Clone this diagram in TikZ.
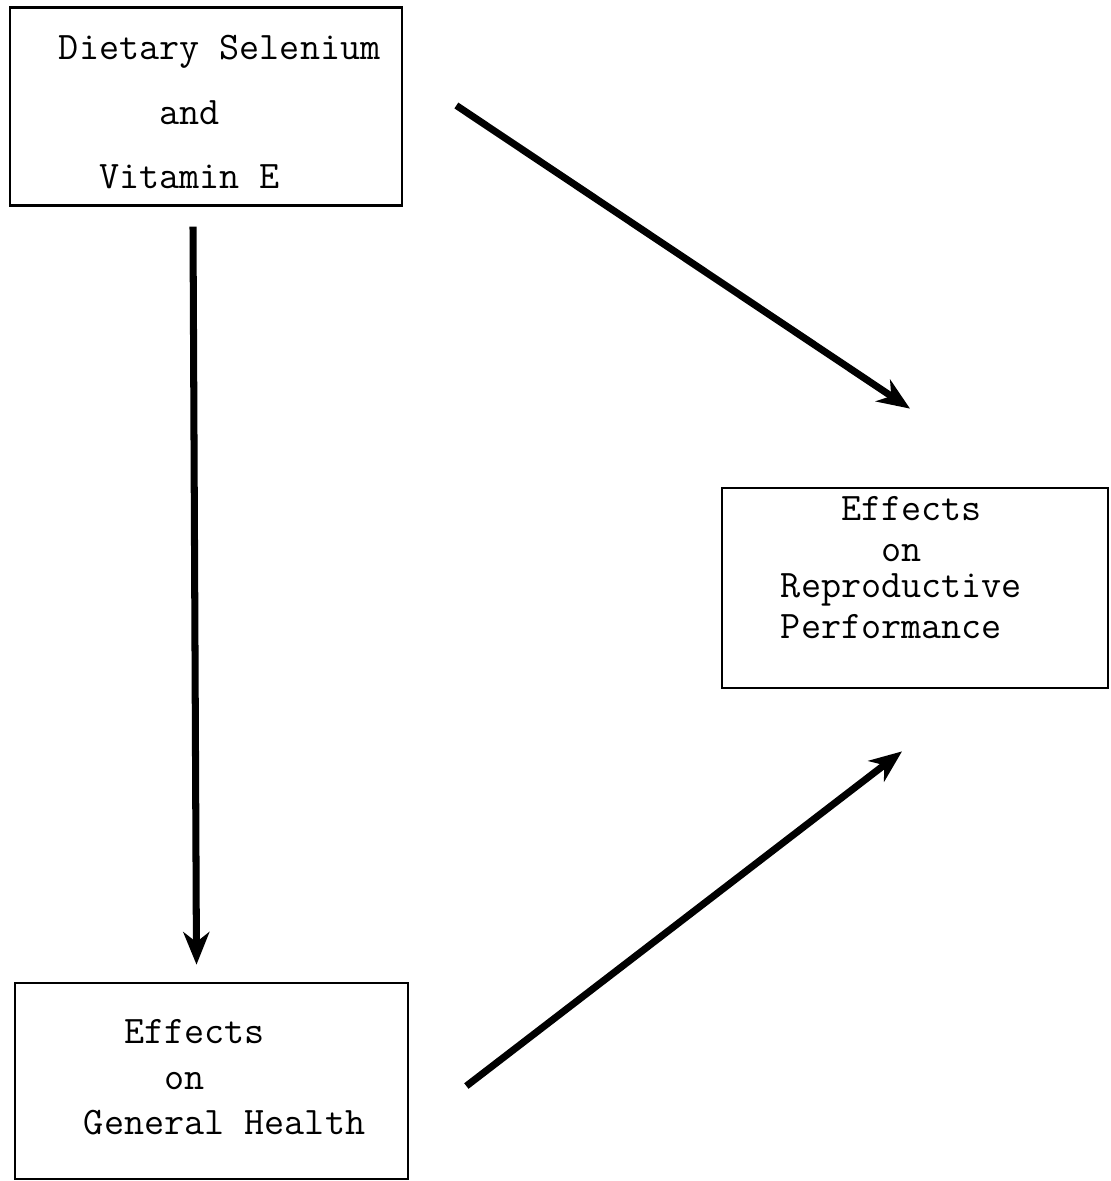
\documentclass[tikz,border=0pt]{standalone}
\usepackage{tikz}
\usetikzlibrary{positioning, calc, arrows.meta}

\tikzset{
	boxtext/.style={font=\ttfamily\fontsize{22.2pt}{0.66cm}\selectfont, align=left, inner sep=0pt, anchor=north west}
}

\begin{document}
\begin{tikzpicture}[x=0.02cm, y=-0.02cm, >={Stealth[length=0.65cm, width=0.52cm, inset=0.2cm]},
    box/.style={draw, line width=1.6pt, minimum width=7.8cm, minimum height=3.95cm},
    arr/.style={line width=4pt, ->}]
      \useasboundingbox (0,0) rectangle (1110,1181);
      \node[box, minimum width=7.84cm] (diet) at (206,106.5) {};
      \node[box, minimum width=7.72cm, minimum height=4cm] (repro) at (915,588) {};
      \node[box, minimum width=7.86cm, minimum height=3.92cm] (health) at (211.5,1081) {};

      \node[boxtext] (diettxt) at ([shift={(50,28)}]diet.north west)
        {Dietary Selenium\\[0.64cm]\phantom{xxxxx}and\\[0.64cm]\phantom{xx}Vitamin E};
      \node[boxtext] (reprotxt) at ([shift={(60,9)}]repro.north west)
        {\phantom{xxx}Effects\\[0.16cm]\phantom{xxxxx}on\\[0.06cm]Reproductive\\[0.16cm]Performance};
      \node[boxtext] (healthtxt) at ([shift={(70,37)}]health.north west)
        {\phantom{xx}Effects\\[0.26cm]\phantom{xxxx}on\\[0.24cm]General Health};

      % selenium and vitamin E act directly on reproduction
      \draw[arr] ([shift={(53,-1)}]diet.east) -- ([shift={(-5,-78)}]repro.north);
      \draw[arr] ([shift={(-13,20)}]diet.south) -- ([shift={(-15,-17)}]health.north);
      % and through general health
      \draw[arr] ([shift={(57,5)}]health.east) -- ([shift={(-13,62)}]repro.south);
    \end{tikzpicture}
\end{document}
